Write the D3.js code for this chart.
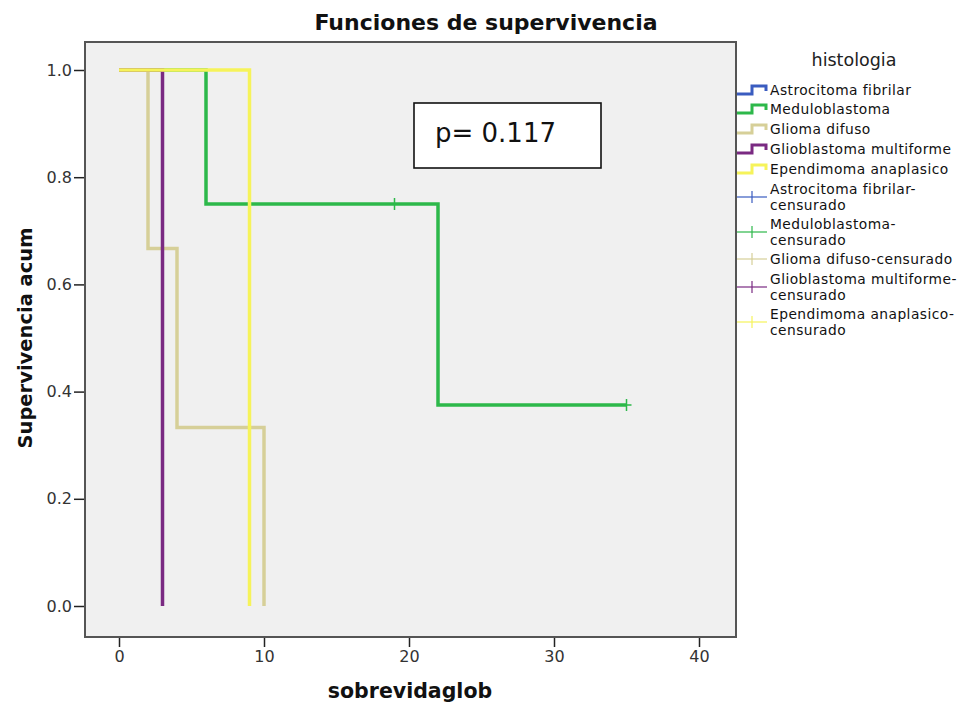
<!DOCTYPE html>
<html>
<head>
<meta charset="utf-8">
<script src="https://cdn.jsdelivr.net/npm/d3@7"></script>
<style>
  body { margin: 0; background: #fff; }
  text { font-family: "DejaVu Sans", sans-serif; }
</style>
</head>
<body>
<div id="container"></div>
<script>
let w = 968;
let h = 704;

// data
let groups = ["Astrocitoma fibrilar", "Meduloblastoma", "Glioma difuso", "Glioblastoma multiforme", "Ependimoma anaplasico"];
let colors = ["#3a5cc0", "#2db84a", "#d6cf98", "#7a2a82", "#f6f35a"];
// step curves: [time, survival]
let astroSteps = [];
let meduloSteps = [[0, 1], [6, 1], [6, 0.75], [22, 0.75], [22, 0.375], [35, 0.375]];
let gliomaSteps = [[0, 1], [2, 1], [2, 0.667], [4, 0.667], [4, 0.333], [10, 0.333], [10, 0]];
let glioblastSteps = [[0, 1], [3, 1], [3, 0]];
let ependSteps = [[0, 1], [9, 1], [9, 0]];
let allSteps = [astroSteps, meduloSteps, gliomaSteps, glioblastSteps, ependSteps];
// censored observations
let meduloCensored = [[19, 0.75], [35, 0.375]];

let xTicks = [0, 10, 20, 30, 40];
let yTicks = [0, 0.2, 0.4, 0.6, 0.8, 1.0];
let pText = "p= 0.117";

let frame = {left: 85, right: 736, top: 42, bottom: 637};

let viz = d3.select("#container")
  .append("svg")
    .attr("width", w)
    .attr("height", h);

let xScale = d3.scaleLinear().domain([0, 40]).range([119, 699]);
let yScale = d3.scaleLinear().domain([0, 1]).range([606, 70]);

// plot background
viz.append("rect")
  .attr("x", frame.left).attr("y", frame.top)
  .attr("width", frame.right - frame.left).attr("height", frame.bottom - frame.top)
  .attr("fill", "#f0f0f0");

// title
viz.append("text")
  .attr("x", 486).attr("y", 30)
  .attr("text-anchor", "middle")
  .attr("font-size", 22).attr("font-weight", "bold")
  .attr("fill", "#111")
  .text("Funciones de supervivencia");

// axes
let xAxis = d3.axisBottom(xScale).tickValues(xTicks).tickSize(10).tickPadding(4);
let xAxisGroup = viz.append("g").attr("transform", "translate(0," + frame.bottom + ")").call(xAxis);
xAxisGroup.select(".domain").remove();
xAxisGroup.selectAll("line").attr("stroke", "#222").attr("stroke-width", 1.5);
xAxisGroup.selectAll("text").attr("font-size", 16).attr("fill", "#333").attr("font-family", "Liberation Sans, Arial, sans-serif");

let yAxis = d3.axisLeft(yScale).tickValues(yTicks).tickSize(11).tickPadding(2).tickFormat(d3.format(".1f"));
let yAxisGroup = viz.append("g").attr("transform", "translate(" + frame.left + ",0)").call(yAxis);
yAxisGroup.select(".domain").remove();
yAxisGroup.selectAll("line").attr("stroke", "#222").attr("stroke-width", 1.5);
yAxisGroup.selectAll("text").attr("font-size", 16).attr("fill", "#333").attr("font-family", "Liberation Sans, Arial, sans-serif");

// axis titles
viz.append("text")
  .attr("x", 410).attr("y", 698)
  .attr("text-anchor", "middle")
  .attr("font-size", 20.5).attr("font-weight", "bold").attr("fill", "#111")
  .text("sobrevidaglob");

viz.append("text")
  .attr("transform", "translate(32,338) rotate(-90)")
  .attr("text-anchor", "middle")
  .attr("font-size", 19.5).attr("font-weight", "bold").attr("fill", "#111")
  .text("Supervivencia acum");

// curves
let line = d3.line().x(d => xScale(d[0])).y(d => yScale(d[1]));
let graphGroup = viz.append("g").classed("graphGroup", true);
graphGroup.selectAll(".curve")
  .data(allSteps)
  .enter()
  .append("path")
    .classed("curve", true)
    .attr("d", d => d.length ? line(d) : null)
    .attr("fill", "none")
    .attr("stroke", (d, i) => colors[i])
    .attr("stroke-width", 3.5)
    .attr("stroke-linejoin", "miter");

// censor marks
graphGroup.selectAll(".censor")
  .data(meduloCensored)
  .enter()
  .append("line")
    .classed("censor", true)
    .attr("x1", d => xScale(d[0])).attr("x2", d => xScale(d[0]))
    .attr("y1", d => yScale(d[1]) - 6).attr("y2", d => yScale(d[1]) + 6)
    .attr("stroke", colors[1])
    .attr("stroke-width", 1.5);
graphGroup.selectAll(".censorH")
  .data(meduloCensored)
  .enter()
  .append("line")
    .attr("x1", d => xScale(d[0]) - 5).attr("x2", d => xScale(d[0]) + 5)
    .attr("y1", d => yScale(d[1])).attr("y2", d => yScale(d[1]))
    .attr("stroke", colors[1])
    .attr("stroke-width", 1.5);

// frame
viz.append("rect")
  .attr("x", frame.left).attr("y", frame.top)
  .attr("width", frame.right - frame.left).attr("height", frame.bottom - frame.top)
  .attr("fill", "none")
  .attr("stroke", "#555").attr("stroke-width", 2);

// p value box
viz.append("rect")
  .attr("x", 414).attr("y", 103).attr("width", 187).attr("height", 65)
  .attr("fill", "#fff").attr("stroke", "#111").attr("stroke-width", 1.6);
viz.append("text")
  .attr("x", 435).attr("y", 142)
  .attr("font-size", 26).attr("fill", "#111")
  .attr("font-family", "Open Sans, sans-serif")
  .text(pText);

// legend
let legend = viz.append("g").attr("font-size", 13.8).attr("letter-spacing", 0.45).attr("fill", "#111");
legend.append("text")
  .attr("x", 854).attr("y", 66)
  .attr("text-anchor", "middle")
  .attr("font-size", 17.5).attr("letter-spacing", 0).attr("fill", "#222")
  .text("histologia");

let stepY = [90, 109, 129, 149, 169];
groups.forEach(function(g, i){
  let y = stepY[i];
  legend.append("path")
    .attr("d", "M737," + (y + 4) + "H752V" + (y - 4) + "H766V" + (y + 1))
    .attr("fill", "none").attr("stroke", colors[i]).attr("stroke-width", 3);
  legend.append("text").attr("x", 770).attr("y", y + 5).text(g);
});

let censorLines = [
  ["Astrocitoma fibrilar-", "censurado"],
  ["Meduloblastoma-", "censurado"],
  ["Glioma difuso-censurado"],
  ["Glioblastoma multiforme-", "censurado"],
  ["Ependimoma anaplasico-", "censurado"]
];
let censorY = [197, 232, 259, 287, 322];
groups.forEach(function(g, i){
  let y = censorY[i];
  let lc = d3.color(colors[i]);
  legend.append("line").attr("x1", 737).attr("x2", 767).attr("y1", y).attr("y2", y)
    .attr("stroke", lc).attr("stroke-width", 1.2);
  legend.append("line").attr("x1", 752).attr("x2", 752).attr("y1", y - 6).attr("y2", y + 6)
    .attr("stroke", lc).attr("stroke-width", 1.2);
  let t = censorLines[i];
  let y0 = t.length == 2 ? y - 3 : y + 5;
  t.forEach(function(s, k){
    legend.append("text").attr("x", 770).attr("y", y0 + k * 16).text(s);
  });
});
</script>
</body>
</html>
